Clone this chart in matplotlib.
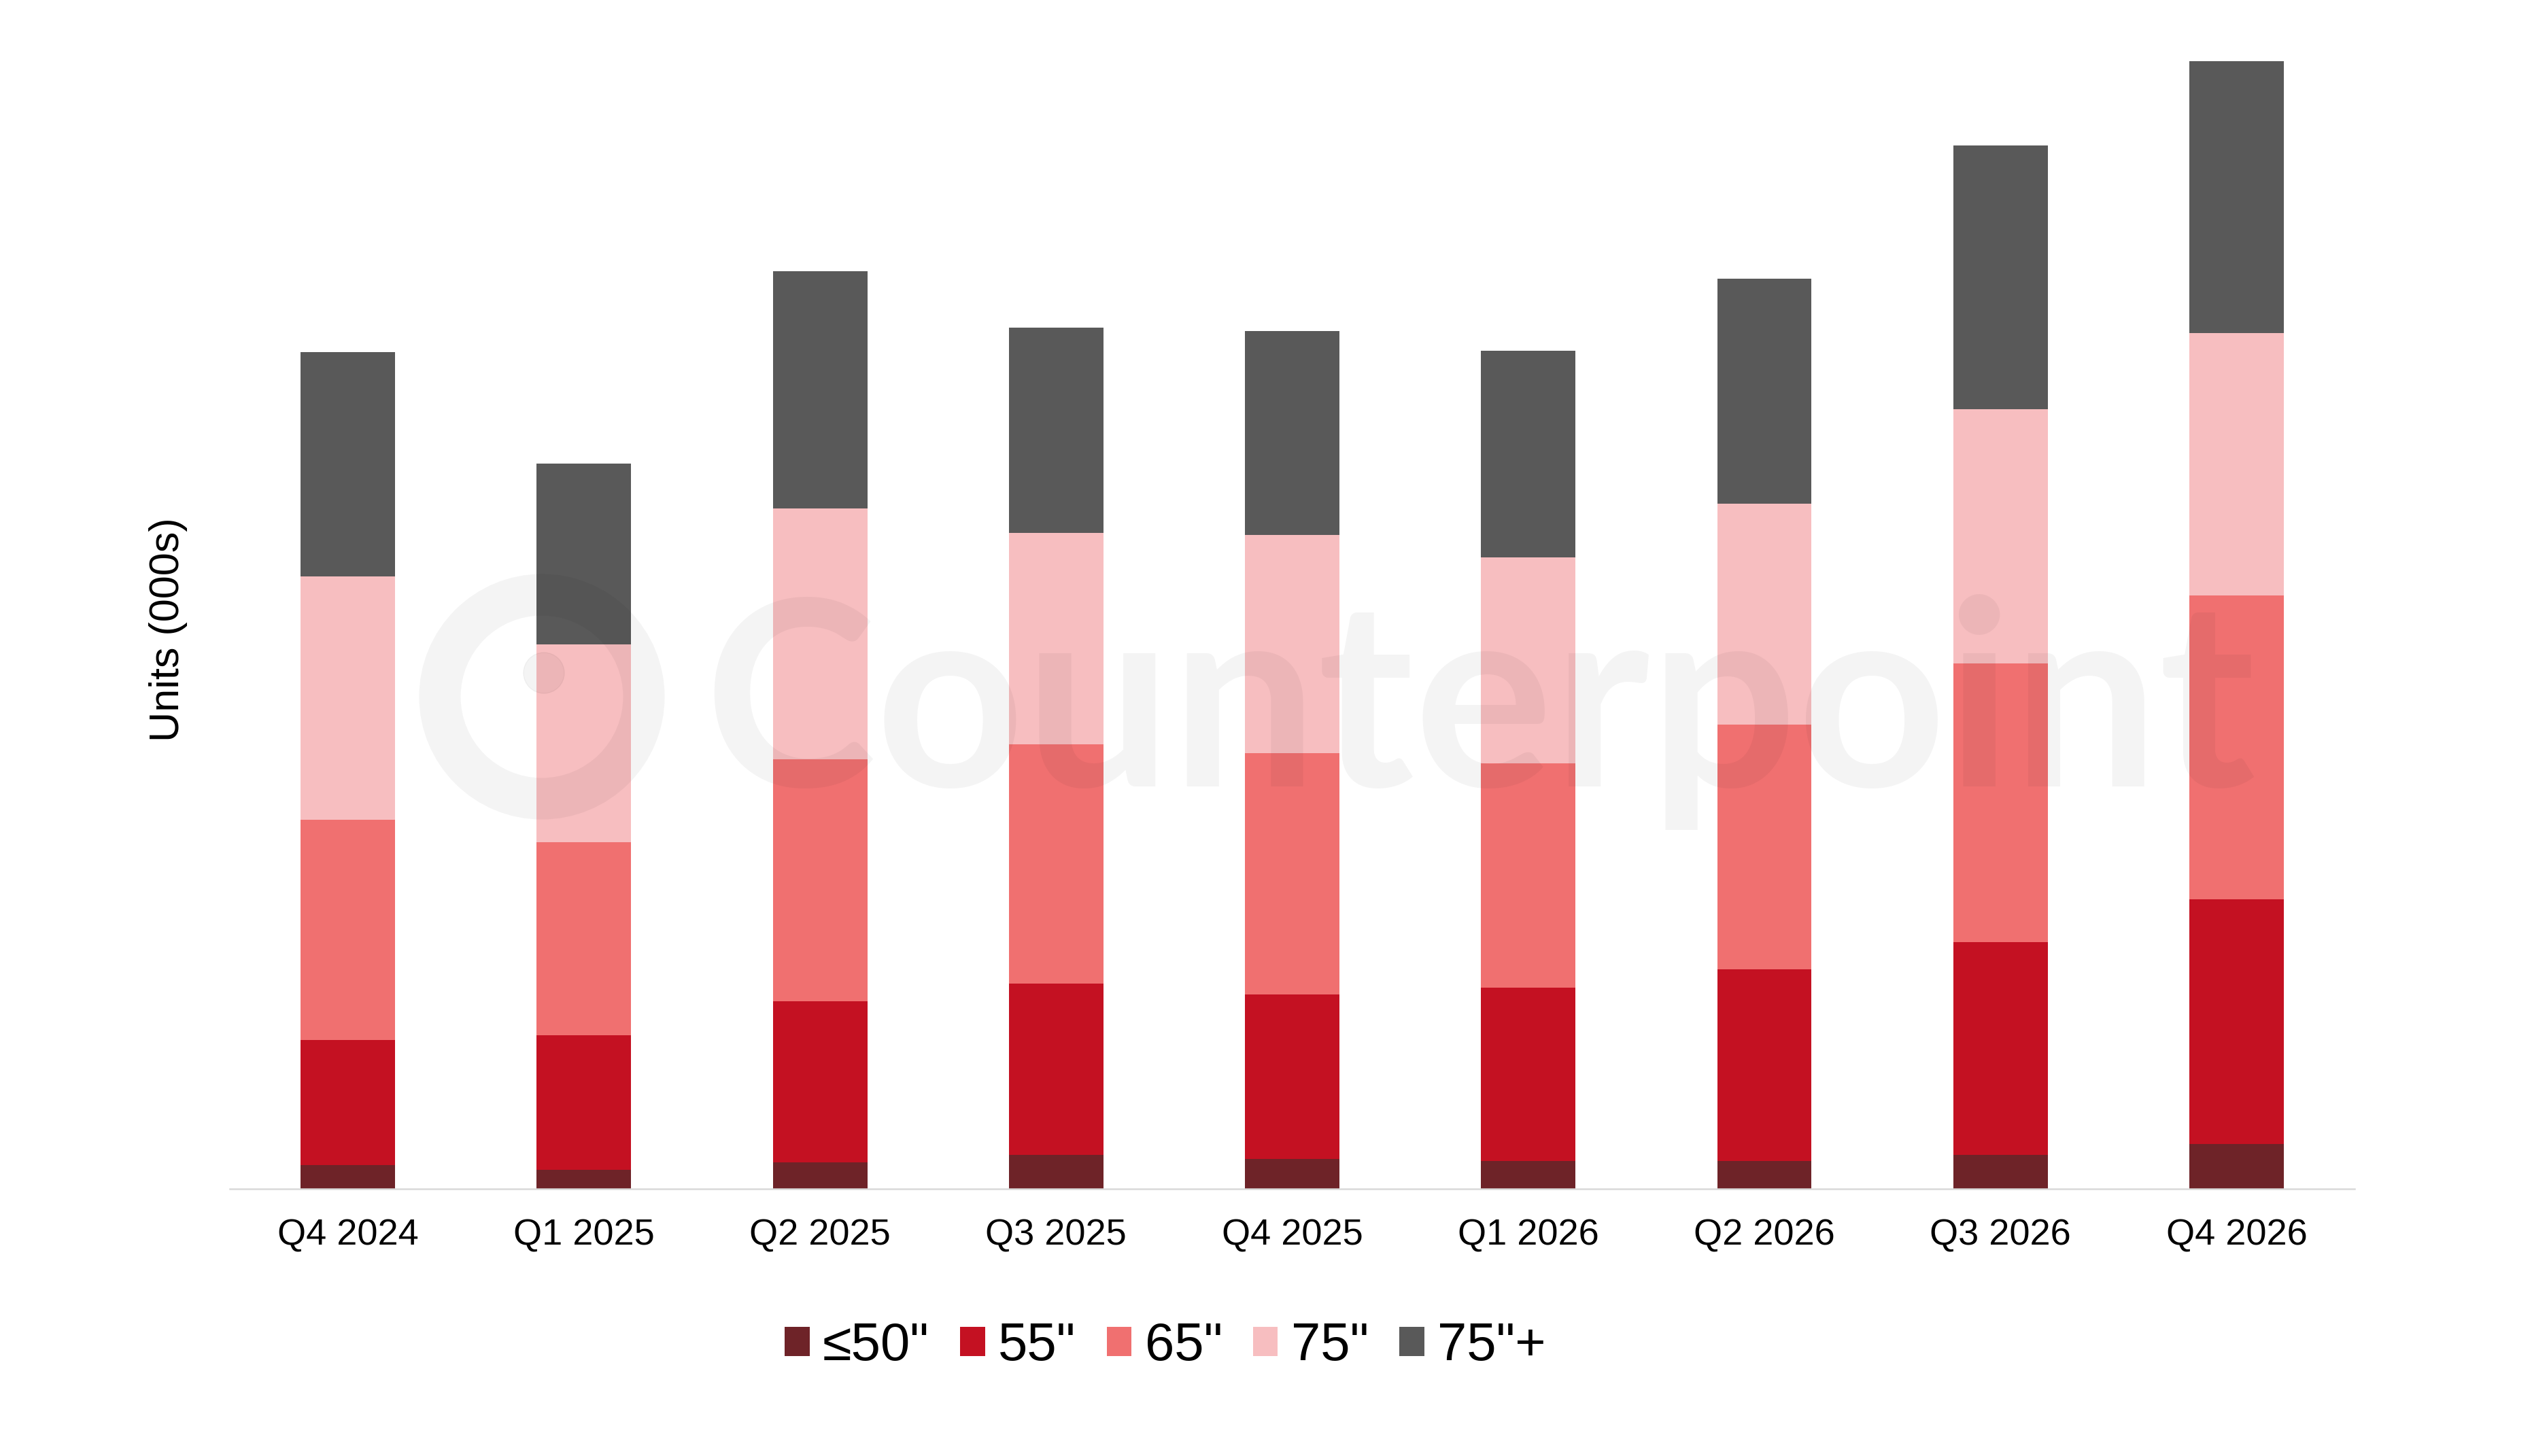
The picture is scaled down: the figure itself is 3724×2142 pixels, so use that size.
import numpy as np
import matplotlib.pyplot as plt
from matplotlib.patches import Circle
from matplotlib.transforms import IdentityTransform

plt.rcParams['font.family'] = ['Liberation Sans', 'DejaVu Sans']

quarters = ['Q4 2024', 'Q1 2025', 'Q2 2025', 'Q3 2025', 'Q4 2025',
            'Q1 2026', 'Q2 2026', 'Q3 2026', 'Q4 2026']

# units (000s)
size_50 = [35, 28, 39, 50, 44, 41, 41, 50, 66]
size_55 = [184, 198, 237, 252, 242, 255, 282, 313, 360]
size_65 = [324, 284, 356, 352, 355, 330, 360, 410, 447]
size_75 = [358, 291, 369, 311, 321, 303, 325, 374, 386]
size_75p = [330, 266, 349, 302, 300, 304, 331, 388, 400]

labels = ['≤50"', '55"', '65"', '75"', '75"+']
colors = ['#6E2328', '#C41122', '#F07070', '#F7BEC0', '#595959']

W, H = 3724, 2142
fig = plt.figure(figsize=(W / 100, H / 100), dpi=100)
ax = fig.add_axes([338 / W, (H - 1749) / H, 3125 / W, 1689 / H])

x = np.arange(len(quarters))
bottom = np.zeros(len(quarters))
for vals, lab, col in zip([size_50, size_55, size_65, size_75, size_75p], labels, colors):
    ax.bar(x, vals, width=0.4, bottom=bottom, color=col, label=lab, zorder=2)
    bottom += np.array(vals)

ax.set_xlim(-0.5, len(quarters) - 0.5)
ax.set_ylim(0, 1689)
ax.set_xticks(x)
ax.set_xticklabels(quarters, fontsize=39)
ax.tick_params(axis='x', length=0, pad=31)
ax.set_yticks([])
for s in ['top', 'right', 'left']:
    ax.spines[s].set_visible(False)
ax.spines['bottom'].set_color('#D9D9D9')
ax.spines['bottom'].set_linewidth(1.8)
ax.spines['bottom'].set_zorder(3)

fig.text(248 / W, 1 - 926 / H, 'Units (000s)', rotation=90, fontsize=44,
         ha='center', va='center')

fig.legend(loc='center', bbox_to_anchor=(1714 / W, 1 - 1981 / H), ncol=5,
           frameon=False, fontsize=56, handlelength=0.47, handleheight=0.47,
           handletextpad=0.25, columnspacing=0.58, borderaxespad=0)

# faint watermark
fig.text(1035 / W, 1 - 1157 / H, 'Counterpoint', family='Lato', weight='bold',
         fontsize=275, color='black', alpha=0.045, ha='left', va='baseline', zorder=10)
ring = Circle((797, H - 1025), 150, transform=IdentityTransform(), fill=False,
              lw=44, edgecolor='black', alpha=0.045, zorder=10)
fig.patches.append(ring)
dot = Circle((800, H - 990), 30, transform=IdentityTransform(), color='black',
             alpha=0.045, zorder=10)
fig.patches.append(dot)

fig.savefig('out.png', dpi=100)
